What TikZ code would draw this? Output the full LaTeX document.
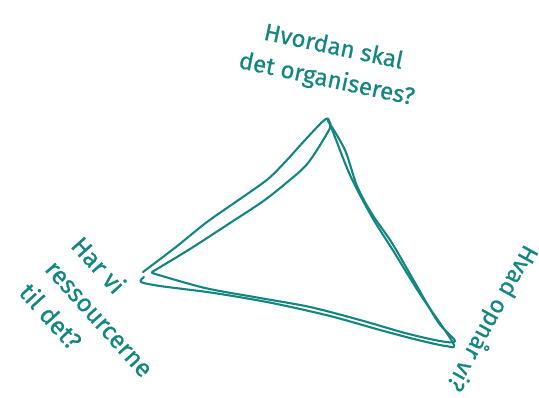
\documentclass[tikz,border=0pt]{standalone}
\usepackage{fontspec}
\setmainfont{Fira Sans}
\newfontfamily\handfont[FakeBold=0.6]{Fira Sans}
\usepackage{tikz}
\usetikzlibrary{calc}
\definecolor{tealink}{RGB}{20,134,128}

\begin{document}
\begin{tikzpicture}[
    x=1pt, y=-1pt,
    pen/.style={draw=tealink, line width=2.1pt, line cap=round, line join=round},
    question/.style={text=tealink, font=\handfont\fontsize{24}{33}\selectfont, inner sep=0pt}
]
\useasboundingbox (0,0) rectangle (539,397);
% corners of the triangle
\coordinate (top) at (326,119);
\coordinate (lft) at (143,272);
\coordinate (rgt) at (453,343);
% first stroke
\draw[pen] plot[smooth, tension=0.5] coordinates {
    (lft) (176,247) (207,222) (240,199) (268,179) (287,160) (306,139) (top)
    (331,127) (350,175) (372,217) (394,252) (420,294) (rgt)
    (446,346) (418,340) (380,330) (330,316) (272,303) (214,293) (160,286) (141,282) (144,277)};
% second stroke
\draw[pen] plot[smooth, tension=0.5] coordinates {
    (152,272) (190,249) (230,223) (262,202) (285,184) (308,163) (330,128)
    (328,121) (345,150) (357,186) (372,214) (392,243) (414,281) (438,322) (455,341)
    (440,341) (405,333) (360,320) (310,307) (260,298) (205,288) (152,273)};
% the three questions
\node[question, rotate=-12, align=center] (organise) at (330,64)
    {Hvordan skal\\det organiseres?};
\node[question, rotate=-48, align=left, font=\handfont\fontsize{25}{35}\selectfont]
    (resources) at (100,318) {Har vi\\ressourcerne\\til det?};
\node[question, rotate=-119] (gain) at (492,318) {Hvad opnår vi?};
\end{tikzpicture}
\end{document}
